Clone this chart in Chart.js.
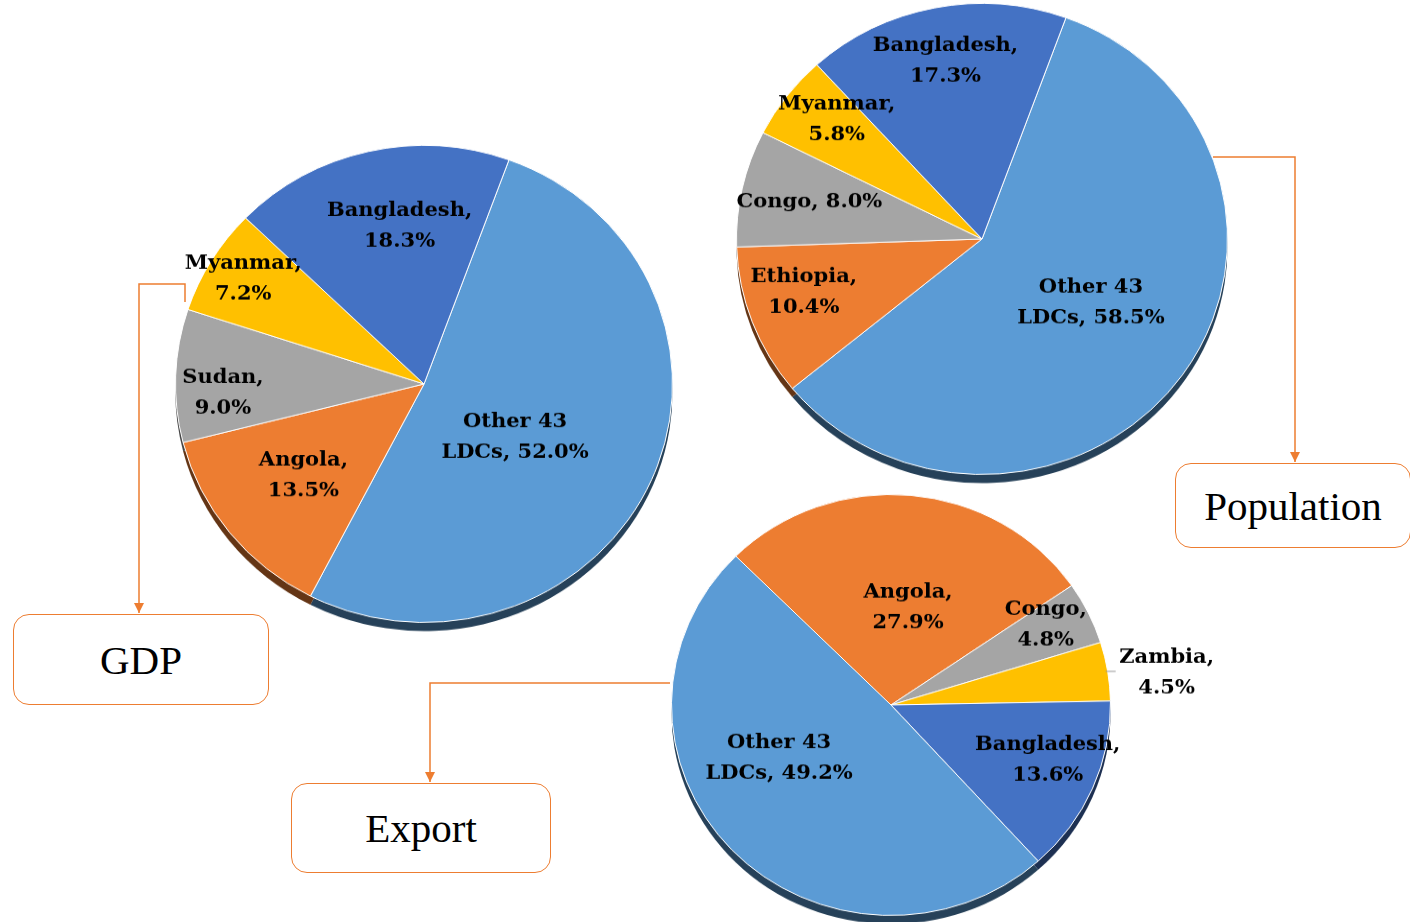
<!DOCTYPE html>
<html>
<head>
<meta charset="utf-8">
<script src="https://cdn.jsdelivr.net/npm/chart.js@4.4.1/dist/chart.umd.min.js"></script>
<style>
  html, body { margin: 0; padding: 0; background: #fff; }
  body { width: 1410px; height: 922px; position: relative; overflow: hidden; }
  .pie { position: absolute; transform-origin: 0 0; }
  .box {
    position: absolute; box-sizing: border-box;
    border: 1.5px solid #ED7D31; border-radius: 16px; background: #fff;
    display: flex; align-items: center; justify-content: center;
    font-family: "Liberation Serif", serif; font-size: 41px; color: #000;
  }
  svg { position: absolute; left: 0; top: 0; }
</style>
</head>
<body>
<svg width="1410" height="922">
  <defs>
    <marker id="arr" viewBox="0 0 10 10" refX="10" refY="5" markerWidth="7" markerHeight="7" orient="auto">
      <path d="M0,0 L10,5 L0,10 z" fill="#ED7D31"/>
    </marker>
  </defs>
  <polyline points="185,302 185,284 139,284 139,613" fill="none" stroke="#ED7D31" stroke-width="1.5" marker-end="url(#arr)"/>
  <polyline points="1213,157 1295,157 1295,462" fill="none" stroke="#ED7D31" stroke-width="1.5" marker-end="url(#arr)"/>
  <polyline points="670,683 430,683 430,782" fill="none" stroke="#ED7D31" stroke-width="1.5" marker-end="url(#arr)"/>
</svg>
<div class="box" style="left:13px;top:614px;width:256px;height:91px;">GDP</div>
<div class="box" style="left:1175px;top:463px;width:236px;height:85px;">Population</div>
<div class="box" style="left:291px;top:783px;width:260px;height:90px;">Export</div>

<script>
// shares in percent
const gdpLabels = ['Other 43 LDCs', 'Angola', 'Sudan', 'Myanmar', 'Bangladesh'];
const gdpShares = [52.0, 13.5, 9.0, 7.2, 18.3];

const popLabels = ['Other 43 LDCs', 'Ethiopia', 'Congo', 'Myanmar', 'Bangladesh'];
const popShares = [58.5, 10.4, 8.0, 5.8, 17.3];

const expLabels = ['Angola', 'Congo', 'Zambia', 'Bangladesh', 'Other 43 LDCs'];
const expShares = [27.9, 4.8, 4.5, 13.6, 49.2];

const BLUE = '#5B9BD5', DARKBLUE = '#4472C4', ORANGE = '#ED7D31', GREY = '#A5A5A5', GOLD = '#FFC000';

function darken(hex) {
    const n = parseInt(hex.slice(1), 16);
    const f = 0.42;
    const r = Math.round(((n >> 16) & 255) * f), g = Math.round(((n >> 8) & 255) * f), b = Math.round((n & 255) * f);
    return 'rgb(' + r + ',' + g + ',' + b + ')';
}

// darker copy of every slice pushed down a bit, gives the 3d rim
const pieShadow = {
    id: 'pieShadow',
    beforeDatasetsDraw(chart) {
        const ctx = chart.ctx;
        const colors = chart.data.datasets[0].backgroundColor;
        chart.getDatasetMeta(0).data.forEach((arc, i) => {
            const p = arc.getProps(['x', 'y', 'startAngle', 'endAngle', 'outerRadius'], true);
            ctx.save();
            ctx.fillStyle = darken(colors[i]);
            ctx.beginPath();
            ctx.moveTo(p.x, p.y + 9);
            ctx.arc(p.x, p.y + 9, p.outerRadius, p.startAngle, p.endAngle);
            ctx.closePath();
            ctx.fill();
            ctx.restore();
        });
    }
};

const sliceText = {
    id: 'sliceText',
    afterDatasetsDraw(chart, args, o) {
        const ctx = chart.ctx;
        const vals = chart.data.datasets[0].data;
        ctx.save();
        ctx.font = 'bold 21px "DejaVu Serif"';
        ctx.fillStyle = '#000';
        ctx.textAlign = 'center';
        ctx.textBaseline = 'middle';
        chart.getDatasetMeta(0).data.forEach((arc, i) => {
            const p = arc.getProps(['x', 'y', 'startAngle', 'endAngle', 'outerRadius'], true);
            const mid = (p.startAngle + p.endAngle) / 2;
            const a = mid + o.turn[i] * Math.PI / 180;
            const d = o.dist[i] * p.outerRadius;
            const lx = p.x + d * Math.cos(a), ly = p.y + d * Math.sin(a);
            const name = chart.data.labels[i];
            const pct = vals[i].toFixed(1) + '%';
            let lines;
            if (o.oneLine.includes(i)) lines = [name + ', ' + pct];
            else if (name.includes(' ')) {
                const k = name.lastIndexOf(' ');
                lines = [name.slice(0, k), name.slice(k + 1) + ', ' + pct];
            } else lines = [name + ',', pct];
            if (o.dist[i] > 1) {
                const ex = p.x + p.outerRadius * Math.cos(mid), ey = p.y + p.outerRadius * Math.sin(mid);
                ctx.strokeStyle = '#9a9a9a';
                ctx.lineWidth = 1;
                ctx.beginPath();
                ctx.moveTo(ex - 2, ey);
                ctx.lineTo(ex + 8, ey);
                ctx.stroke();
            }
            lines.forEach((t, j) => {
                ctx.fillText(t, lx, ly + (j - (lines.length - 1) / 2) * 32);
            });
        });
        ctx.restore();
    }
};

function makePie(labels, values, o) {
    const s = o.ry / o.rx;
    const size = 2 * o.rx + 2;
    const padRight = o.padRight || 0;
    const wrap = document.createElement('div');
    wrap.className = 'pie';
    wrap.style.left = (o.cx - o.rx - 1) + 'px';
    wrap.style.top = (o.cy - (o.rx + 1) * s) + 'px';
    wrap.style.transform = 'scaleY(' + s + ')';
    const canvas = document.createElement('canvas');
    canvas.width = size + padRight;
    canvas.height = size + 14;
    wrap.appendChild(canvas);
    document.body.appendChild(wrap);

    return new Chart(canvas, {
        type: 'pie',
        data: {
            labels: labels,
            datasets: [{
                data: values,
                backgroundColor: o.colors,
                borderColor: '#ffffff',
                borderWidth: 1,
                hoverOffset: 0
            }]
        },
        options: {
            responsive: false,
            animation: false,
            events: [],
            rotation: o.rotation,
            layout: { padding: { bottom: 14, right: padRight } },
            plugins: {
                legend: { display: false },
                tooltip: { enabled: false },
                sliceText: { dist: o.dist, turn: o.turn, oneLine: o.oneLine || [] }
            }
        },
        plugins: [pieShadow, sliceText]
    });
}

makePie(gdpLabels, gdpShares, {
    cx: 424, cy: 384, rx: 248, ry: 238, rotation: 20,
    colors: [BLUE, ORANGE, GREY, GOLD, DARKBLUE],
    dist: [0.43, 0.62, 0.81, 0.85, 0.67],
    turn: [8, 0, -4.7, 0, 4.5]
});

makePie(popLabels, popShares, {
    cx: 982, cy: 239, rx: 245, ry: 235, rotation: 20,
    colors: [BLUE, ORANGE, GREY, GOLD, DARKBLUE],
    dist: [0.52, 0.76, 0.72, 0.78, 0.77],
    turn: [-3.9, 3.4, 0, 3.4, 0],
    oneLine: [2]
});

makePie(expLabels, expShares, {
    cx: 891, cy: 705, rx: 219, ry: 210, rotation: -45, padRight: 140,
    colors: [ORANGE, GREY, GOLD, DARKBLUE, BLUE],
    dist: [0.47, 0.8, 1.265, 0.76, 0.57],
    turn: [4.3, -2.3, 2.2, -3.4, 17]
});
</script>
</body>
</html>
